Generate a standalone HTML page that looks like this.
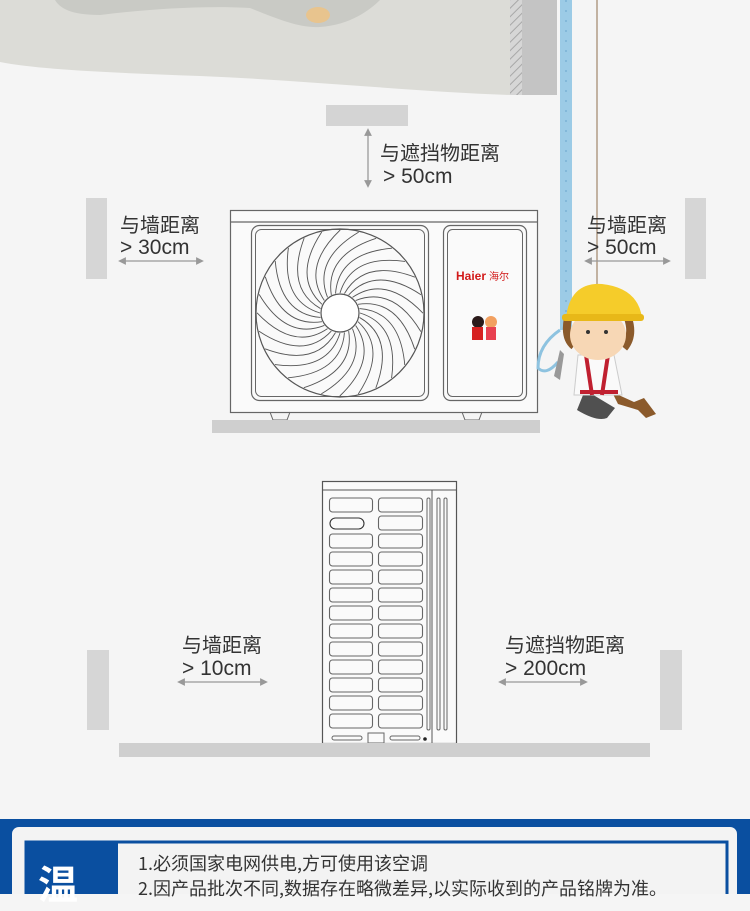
<!DOCTYPE html>
<html><head><meta charset="utf-8"><style>
html,body{margin:0;padding:0;background:#f5f5f5;}
body{width:750px;height:894px;overflow:hidden;position:relative;font-family:"Liberation Sans","Noto Sans CJK SC",sans-serif;}
.t{position:absolute;color:#333;font-size:20px;line-height:24px;white-space:nowrap;font-family:"Noto Sans CJK SC","Liberation Sans",sans-serif;}
.n{font-family:"Liberation Sans","Noto Sans CJK SC",sans-serif;font-size:21px;}
</style></head><body>
<svg width="750" height="894" style="position:absolute;left:0;top:0" xmlns="http://www.w3.org/2000/svg">
<defs>
<pattern id="h" width="6" height="6" patternUnits="userSpaceOnUse" patternTransform="rotate(45)"><rect width="6" height="6" fill="#d6d6d6"/><line x1="0" y1="0" x2="0" y2="6" stroke="#a8a8a8" stroke-width="2"/></pattern>
<marker id="a" markerWidth="6" markerHeight="6" refX="3" refY="3" orient="auto-start-reverse"><path d="M0,0 L6,3 L0,6z" fill="#999"/></marker>
</defs>
<path d="M0,0 H510 V95 C420,92 300,80 200,76 C120,73 40,70 0,62 Z" fill="#dcdcd7"/>
<path d="M55,0 H380 C370,10 350,25 320,27 C300,28 280,20 250,8 C200,5 140,10 100,15 C70,15 60,8 55,0Z" fill="#c9cac5"/>
<ellipse cx="318" cy="15" rx="12" ry="8" fill="#e8c48e"/>
<rect x="510" y="0" width="12" height="95" fill="url(#h)"/>
<rect x="522" y="0" width="35" height="95" fill="#c4c4c4"/>
<rect x="560" y="0" width="12" height="330" fill="#9ccbe6"/>
<line x1="566" y1="0" x2="566" y2="330" stroke="#6aa6cc" stroke-width="1" stroke-dasharray="2,8"/>
<line x1="597" y1="0" x2="597" y2="360" stroke="#a0856a" stroke-width="1.2"/>
<rect x="326" y="105" width="82" height="21" fill="#d4d4d4"/>
<line x1="368" y1="132" x2="368" y2="184" stroke="#999" stroke-width="1.3" marker-start="url(#a)" marker-end="url(#a)"/>
<rect x="86" y="198" width="21" height="81" fill="#d6d6d6"/>
<rect x="685" y="198" width="21" height="81" fill="#d6d6d6"/>
<line x1="122" y1="261" x2="200" y2="261" stroke="#999" stroke-width="1.3" marker-start="url(#a)" marker-end="url(#a)"/>
<line x1="588" y1="261" x2="667" y2="261" stroke="#999" stroke-width="1.3" marker-start="url(#a)" marker-end="url(#a)"/>
<rect x="230.5" y="210.5" width="307" height="202" fill="#fafafa" stroke="#666" stroke-width="1.2"/>
<line x1="230" y1="222" x2="537" y2="222" stroke="#666" stroke-width="1.2"/>
<rect x="251.5" y="225.5" width="177" height="175" rx="8" fill="none" stroke="#666" stroke-width="1.2"/>
<rect x="255.5" y="229.5" width="169" height="167" rx="6" fill="none" stroke="#666" stroke-width="1"/>
<circle cx="340" cy="313" r="84" fill="none" stroke="#555" stroke-width="1.2"/>
<g stroke="#555" stroke-width="0.9" fill="none" id="blades"></g>
<circle cx="340" cy="313" r="19" fill="#fff" stroke="#555" stroke-width="1.2"/>
<rect x="443.5" y="225.5" width="83" height="175" rx="7" fill="none" stroke="#666" stroke-width="1.2"/>
<rect x="447.5" y="229.5" width="75" height="167" rx="5" fill="none" stroke="#666" stroke-width="1"/>
<text x="456" y="280" font-family="Liberation Sans" font-weight="bold" font-size="12" fill="#d21a1a">Haier</text>
<text x="489" y="280" font-family="Noto Sans CJK SC" font-size="10" fill="#d21a1a">海尔</text>
<circle cx="478" cy="322" r="6" fill="#2a1a1a"/><rect x="472" y="327" width="11" height="13" fill="#d62020"/>
<circle cx="491" cy="322" r="6" fill="#f2a060"/><rect x="486" y="327" width="10" height="13" fill="#e84050"/>
<path d="M270,412 l3,8 h14 l3,-8" fill="none" stroke="#666"/>
<path d="M462,412 l3,8 h14 l3,-8" fill="none" stroke="#666"/>
<rect x="212" y="420" width="328" height="13" fill="#cfcfcf"/>
<!-- worker -->
<path d="M560,330 q-22,15 -22,38 q8,8 20,-6" fill="none" stroke="#8ec3e0" stroke-width="3"/>
<path d="M585,390 l-8,20 q20,12 30,8 l8,-10z" fill="#505050"/>
<path d="M612,392 l22,10 l10,-4 l12,16 l-10,4 l-8,-8 l-20,-6z" fill="#8b5a2b"/>
<path d="M578,355 h36 l8,40 h-48 z" fill="#fafafa" stroke="#ccc"/>
<path d="M586,355 l6,40 M608,355 l-6,40 M580,392 h38" stroke="#c02030" stroke-width="4" fill="none"/>
<path d="M568,318 q-4,20 6,28 M628,318 q6,18 -4,30" stroke="#8b5a2b" stroke-width="8" fill="none"/>
<ellipse cx="598" cy="335" rx="28" ry="25" fill="#f7d7b5"/>
<circle cx="588" cy="332" r="2" fill="#333"/><circle cx="606" cy="332" r="2" fill="#333"/>
<path d="M566,318 q4,-36 36,-34 q36,4 40,34 z" fill="#f5cc2a"/>
<rect x="562" y="314" width="82" height="7" rx="3" fill="#e8b818"/>
<path d="M560,350 l-6,26 l6,4 l4,-26z" fill="#999"/>
<rect x="322.5" y="481.5" width="134" height="262" fill="#fafafa" stroke="#555" stroke-width="1.2"/>
<line x1="322" y1="490" x2="456" y2="490" stroke="#555"/>
<line x1="432" y1="490" x2="432" y2="743" stroke="#555"/>
<g id="slats" fill="none" stroke="#666" stroke-width="1.1"></g>
<rect x="427" y="498" width="3" height="232" rx="1.5" fill="none" stroke="#666"/>
<rect x="437" y="498" width="3" height="232" rx="1.5" fill="none" stroke="#666"/>
<rect x="444" y="498" width="3" height="232" rx="1.5" fill="none" stroke="#666"/>
<rect x="332" y="736" width="30" height="4" rx="2" fill="none" stroke="#666"/>
<rect x="368" y="733" width="16" height="10" fill="none" stroke="#666"/>
<rect x="390" y="736" width="30" height="4" rx="2" fill="none" stroke="#666"/>
<circle cx="425" cy="739" r="1.8" fill="#222"/>
<rect x="87" y="650" width="22" height="80" fill="#d6d6d6"/>
<rect x="660" y="650" width="22" height="80" fill="#d6d6d6"/>
<rect x="119" y="743" width="531" height="14" fill="#cfcfcf"/>
<line x1="181" y1="682" x2="264" y2="682" stroke="#999" stroke-width="1.3" marker-start="url(#a)" marker-end="url(#a)"/>
<line x1="502" y1="682" x2="584" y2="682" stroke="#999" stroke-width="1.3" marker-start="url(#a)" marker-end="url(#a)"/>
<rect x="0" y="819" width="750" height="75" fill="#0a4fa0"/>
<rect x="12" y="827" width="725" height="80" rx="7" fill="#f3f3f3"/>
<rect x="26" y="842" width="701" height="60" fill="#f3f3f3" stroke="#0a4fa0" stroke-width="3"/>
<rect x="26" y="842" width="92" height="60" fill="#0a4fa0"/>
</svg>
<div class="t" style="left:380px;top:140px">与遮挡物距离</div>
<div class="t n" style="left:383px;top:165px">&gt; 50cm</div>
<div class="t" style="left:120px;top:212px">与墙距离</div>
<div class="t n" style="left:120px;top:236px">&gt; 30cm</div>
<div class="t" style="left:587px;top:212px">与墙距离</div>
<div class="t n" style="left:587px;top:236px">&gt; 50cm</div>
<div class="t" style="left:182px;top:632px">与墙距离</div>
<div class="t n" style="left:182px;top:657px">&gt; 10cm</div>
<div class="t" style="left:505px;top:632px">与遮挡物距离</div>
<div class="t n" style="left:505px;top:657px">&gt; 200cm</div>
<div class="t" style="left:138px;top:851px;font-size:18px;color:#333">1.必须国家电网供电,方可使用该空调</div>
<div class="t" style="left:138px;top:876px;font-size:18px;color:#333">2.因产品批次不同,数据存在略微差异,以实际收到的产品铭牌为准。</div>
<div class="t" style="left:38px;top:860px;font-size:40px;line-height:44px;color:#fff;font-weight:bold">温</div>
<script>
var g=document.getElementById('blades'),s='';
for(var i=0;i<28;i++){var a=i*2*Math.PI/28,cx=340,cy=313;
var x1=cx+20*Math.cos(a),y1=cy+20*Math.sin(a),x2=cx+83*Math.cos(a+0.9),y2=cy+83*Math.sin(a+0.9),
mx=cx+60*Math.cos(a+0.2),my=cy+60*Math.sin(a+0.2);
s+='<path d="M'+x1+','+y1+' Q'+mx+','+my+' '+x2+','+y2+'"/>';}
g.innerHTML=s;
var sl=document.getElementById('slats'),t='';
for(var r=0;r<13;r++){var y=498+r*18;
if(r==1)t+='<rect x="330" y="'+(y+2)+'" width="34" height="11" rx="5.5" stroke="#333"/>';
else t+='<rect x="329.5" y="'+y+'" width="43" height="14" rx="3"/>';
t+='<rect x="378.5" y="'+y+'" width="44" height="14" rx="3"/>';}
sl.innerHTML=t;
</script>
</body></html>
